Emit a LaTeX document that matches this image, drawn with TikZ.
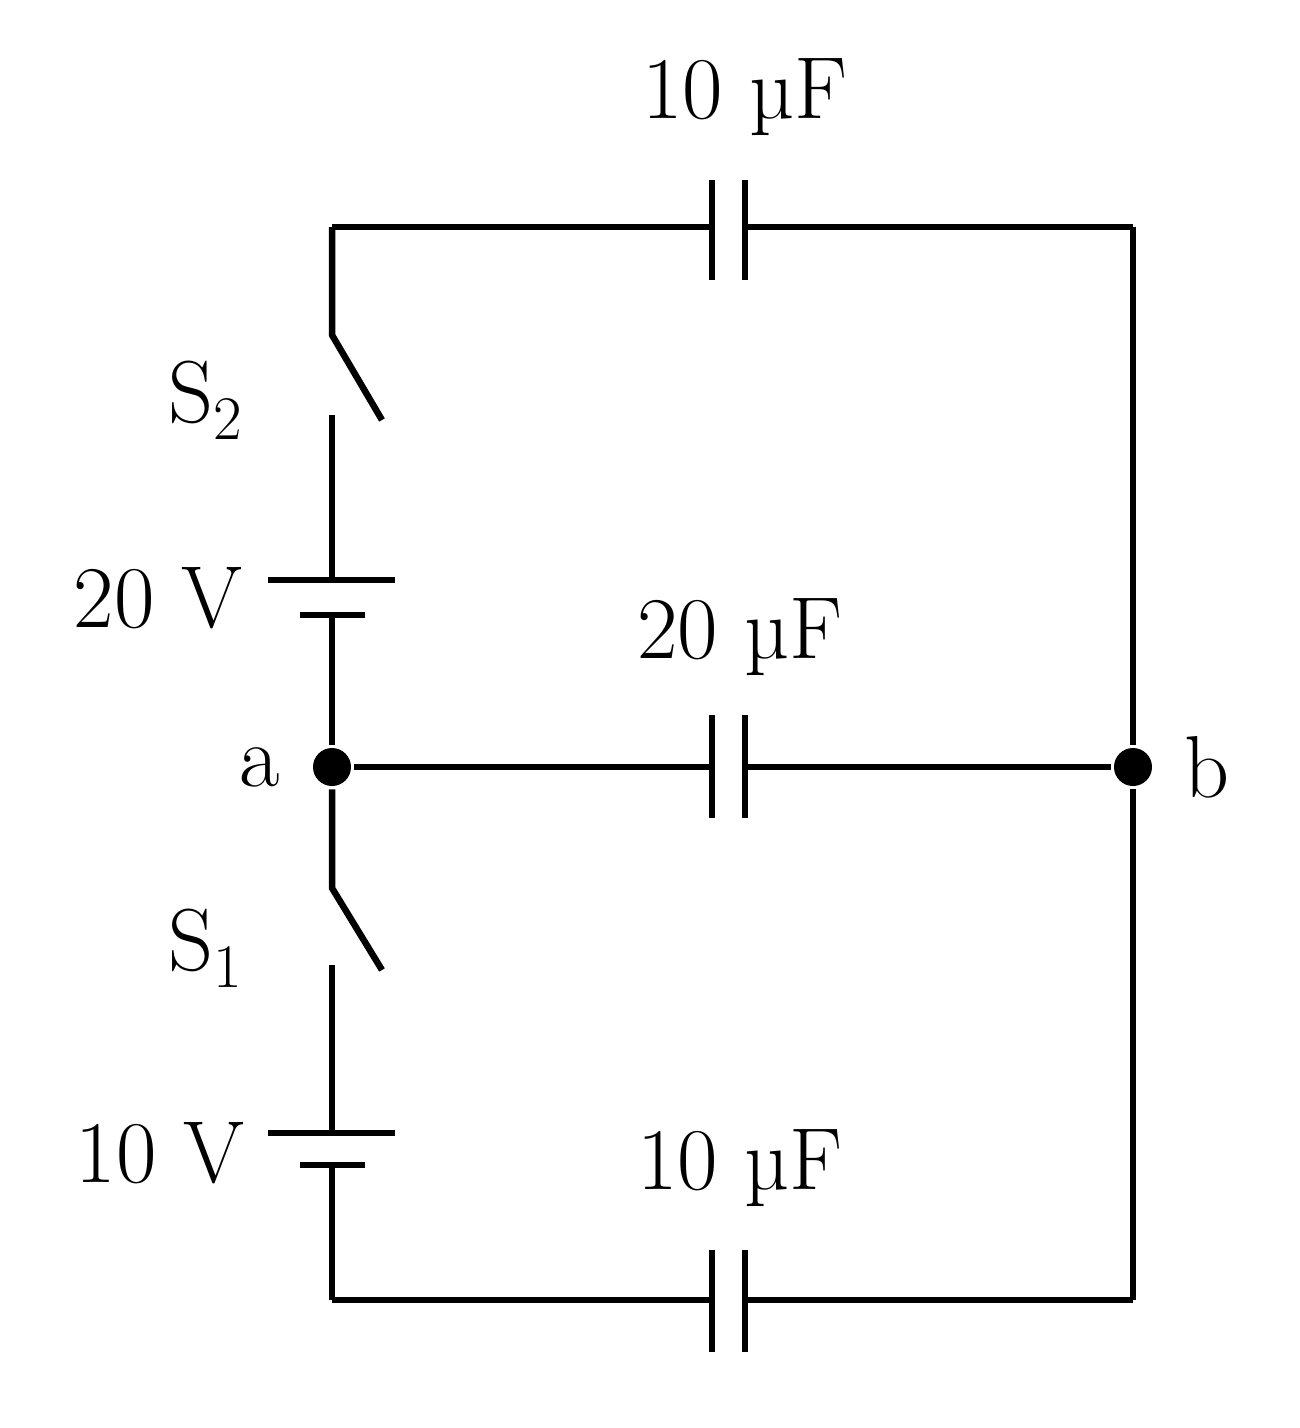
\documentclass[tikz,border=0pt]{standalone}
\usepackage{fontspec}
\newcommand{\mysub}[1]{\raisebox{-17pt}{\fontsize{62}{64}\selectfont #1}}
\begin{document}
\begin{tikzpicture}[x=1pt,y=-1pt,line width=6.5pt,
  lbl/.style={font=\fontsize{88}{96}\selectfont,inner sep=0pt},
  dot/.style={circle,fill=black,minimum size=38pt,inner sep=0pt}]
\useasboundingbox (0,0) rectangle (1300,1428);
% coordinates
\coordinate (tl) at (332,227); \coordinate (tr) at (1133,227);
\coordinate (bl) at (332,1300); \coordinate (br) at (1133,1300);
\node[dot] (a) at (332,767) {};
\node[dot] (b) at (1133,767) {};
% top wire with capacitor
\draw (tl) -- (712,227); \draw (745,227) -- (tr);
\draw (712,180) -- (712,280); \draw (745,180) -- (745,280);
% middle
\draw (a) -- (712,767); \draw (745,767) -- (b);
\draw (712,715) -- (712,818); \draw (745,715) -- (745,818);
% bottom
\draw (bl) -- (712,1300); \draw (745,1300) -- (br);
\draw (712,1250) -- (712,1352); \draw (745,1250) -- (745,1352);
% right
\draw (tr) -- (b) -- (br);
% left upper: S2, 20V
\draw (tl) -- (332,335) -- (382,420);
\draw (332,415) -- (332,580);
\draw (268,580) -- (395,580); \draw (300,615) -- (365,615);
\draw (332,615) -- (a);
% left lower: S1, 10V
\draw (a) -- (332,888) -- (382,970);
\draw (332,965) -- (332,1133);
\draw (268,1133) -- (395,1133); \draw (300,1165) -- (365,1165);
\draw (332,1165) -- (bl);
% labels
\node[lbl] (c1) at (745,97) {10 µF};
\node[lbl] (c2) at (740,637) {20 µF};
\node[lbl] (c3) at (740,1168) {10 µF};
\node[lbl] (s2) at (205,400) {S\mysub{2}};
\node[lbl] (s1) at (205,948) {S\mysub{1}};
\node[lbl] (v2) at (158,598) {20 V};
\node[lbl] (v1) at (160,1153) {10 V};
\node[lbl] (la) at (260,767) {a};
\node[lbl] (lb) at (1207,767) {b};
\end{tikzpicture}
\end{document}
